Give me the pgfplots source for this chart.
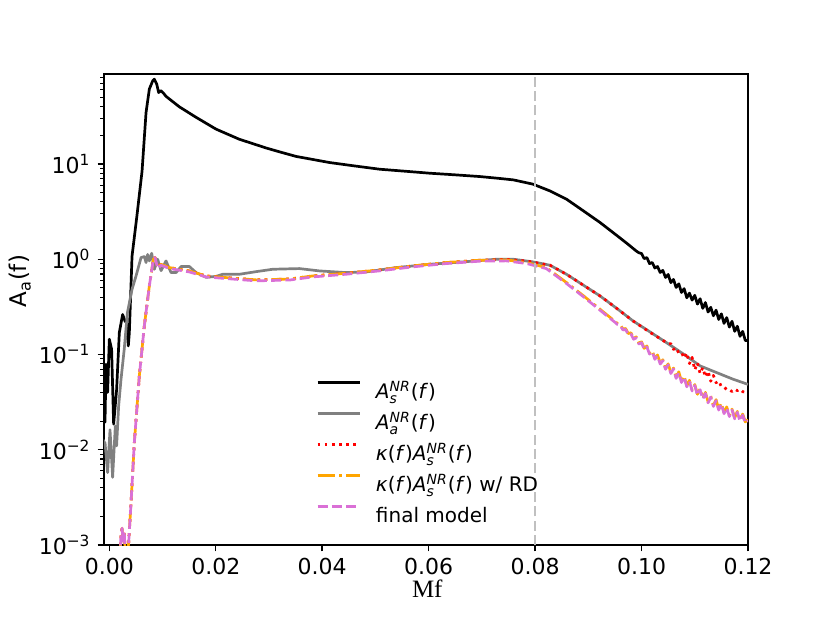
\documentclass[border=0pt]{standalone}
\usepackage{fontspec}
\setmainfont{DejaVu Sans}
\newfontfamily\serifmf{Liberation Serif}
\usepackage{amsmath}
\usepackage{pgfplots}
\pgfplotsset{compat=1.18}
\definecolor{mgray}{RGB}{128,128,128}
\definecolor{morange}{RGB}{255,165,0}
\definecolor{morchid}{RGB}{218,112,214}
\definecolor{vline}{RGB}{192,192,192}
\pgfplotsset{
  mylegimg/.style={legend image code/.code={\draw[##1] (0pt,3.6pt) -- (21pt,3.6pt);}},
}
\newcommand{\ls}{\rule[-4.5pt]{0pt}{15pt}}
\newcommand{\AsNR}{\textit{A}$_{\textit{s}}^{\textit{NR}}$(\textit{f})}
\newcommand{\AaNR}{\textit{A}$_{\textit{a}}^{\textit{NR}}$(\textit{f})}
\begin{document}
\begin{tikzpicture}
\useasboundingbox (-52pt,-39pt) rectangle (363pt,272.5pt);
\begin{axis}[
  scale only axis, width=322pt, height=235.5pt,
  ymode=log, xmin=-0.001, xmax=0.12, ymin=1e-3, ymax=88,
  xtick={0,0.02,0.04,0.06,0.08,0.1,0.12},
  xticklabels={0.00,0.02,0.04,0.06,0.08,0.10,0.12},
  ytick={1e-3,1e-2,1e-1,1,10},
  yticklabels={10\textsuperscript{−3},10\textsuperscript{−2},10\textsuperscript{−1},10\textsuperscript{0},10\textsuperscript{1}},
  minor ytick={0.002,0.003,0.004,0.005,0.006,0.007,0.008,0.009,0.02,0.03,0.04,0.05,0.06,0.07,0.08,0.09,0.2,0.3,0.4,0.5,0.6,0.7,0.8,0.9,2,3,4,5,6,7,8,9,20,30,40,50,60,70,80},
  tick align=outside, tick pos=left,
  major tick length=3.2pt, minor tick length=1.8pt,
  every major tick/.append style={line width=0.72pt, black},
  every minor tick/.append style={line width=0.54pt, black},
  axis line style={line width=0.72pt},
  ticklabel style={font=\fontsize{11}{13}\selectfont},
  xlabel={\serifmf Mf},
  ylabel={A\textsubscript{a}(f)},
  every axis x label/.style={at={(axis description cs:0.502,0)}, yshift=-26.2pt, anchor=base, font=\fontsize{12.5}{14}\selectfont},
  every axis y label/.style={at={(axis description cs:0,0.56)}, xshift=-38.5pt, rotate=90, anchor=base, font=\fontsize{11.5}{13}\selectfont},
  mylegimg,
  legend cell align=left,
  legend style={draw=none, fill=none, inner sep=0pt, at={(axis description cs:0.329,0.198)}, anchor=west,
    font=\fontsize{10}{12}\selectfont, row sep=3.5pt, column sep=7.5pt,
    nodes={inner sep=0pt}},
  every axis plot/.append style={line width=1.35pt, line join=round},
]
% black
\addplot[black] coordinates {
(-0.00126,0.070)(-0.00113,0.040)(-0.00081,0.0195)(-0.00062,0.079)(-0.00032,0.040)(0,0.145)(0.00043,0.1135)(0.00081,0.0186)(0.00137,0.0427)(0.00188,0.17)(0.0025,0.263)(0.00295,0.224)(0.00325,0.216)(0.00357,0.123)(0.00376,0.17)(0.00427,1.08)(0.0052,2.9)(0.00615,8.4)(0.0069,34.7)(0.00752,61.1)(0.00815,74.6)(0.00846,77.6)(0.0089,69.2)(0.00927,56.2)(0.0097,58.9)(0.01015,55.6)(0.01065,51.3)(0.01316,39.8)(0.0163,30.9)(0.02006,23.2)(0.0244,18.2)(0.0295,14.7)(0.032,13.4)(0.0351,12.0)(0.0414,10.35)(0.046,9.55)(0.0508,8.81)(0.0555,8.4)(0.0602,8.0)(0.065,7.69)(0.0696,7.38)(0.073,7.08)(0.0759,6.81)(0.0796,6.14)(0.0828,5.21)(0.0859,4.27)(0.089,3.24)(0.0922,2.43)(0.0955,1.75)(0.0975,1.43)(0.099,1.22)
(0.0995,1.17)(0.100,1.148)(0.1005,1.014)(0.101,1.042)(0.1015,0.899)(0.102,0.925)(0.1025,0.809)(0.103,0.839)(0.1035,0.726)(0.104,0.764)(0.1045,0.644)(0.105,0.692)(0.1055,0.568)(0.106,0.614)(0.1065,0.505)(0.107,0.552)(0.1075,0.448)(0.108,0.491)(0.1085,0.394)(0.109,0.441)(0.1095,0.372)(0.110,0.418)(0.1105,0.338)
(0.111,0.385)(0.1115,0.305)(0.112,0.351)(0.1125,0.279)(0.113,0.313)(0.1135,0.255)(0.114,0.292)(0.1145,0.233)(0.115,0.267)(0.1155,0.212)(0.116,0.244)(0.1165,0.194)(0.117,0.223)(0.1175,0.175)(0.118,0.198)(0.1185,0.155)(0.119,0.175)(0.1195,0.140)(0.120,0.141)
};
\addlegendentry{\ls\AsNR}
% gray
\addplot[mgray] coordinates {
(-0.00126,0.0129)(-0.0008,0.0117)(-0.00032,0.00575)(0.00013,0.0162)(0.00062,0.00513)(0.00113,0.0178)(0.00137,0.011)(0.00175,0.0288)(0.0022,0.055)(0.0028,0.1135)(0.0034,0.275)(0.00427,0.484)(0.00502,0.668)(0.00596,1.04)(0.00658,1.067)(0.0069,0.923)(0.0072,1.122)(0.00752,0.96)(0.00796,1.156)(0.00846,0.785)(0.00908,1.0)(0.00972,0.759)(0.01065,0.96)(0.0116,0.724)(0.01254,0.724)(0.01348,0.838)(0.01504,0.838)(0.0163,0.724)(0.01818,0.646)(0.02006,0.661)(0.0213,0.695)(0.0244,0.695)(0.0276,0.741)(0.0307,0.785)(0.0357,0.798)(0.0395,0.754)(0.0445,0.724)(0.0483,0.736)(0.0539,0.817)(0.0602,0.885)(0.0665,0.938)(0.0727,1.0)(0.0759,1.0)(0.0796,0.938)(0.0828,0.865)(0.0859,0.695)(0.089,0.537)(0.0922,0.412)(0.0955,0.30)(0.0984,0.225)(0.1015,0.174)(0.1047,0.133)(0.108,0.1)(0.111,0.0759)(0.1141,0.0646)(0.1172,0.055)(0.1198,0.049)(0.12,0.0485)
};
\addlegendentry{\ls\AaNR}
% red dotted
\addplot[red, dash pattern=on 1.35pt off 2.23pt] coordinates {
(0.0020,0.0007)(0.0022,0.0013)(0.0024,0.0015)(0.0026,0.0011)(0.0028,0.0014)(0.0030,0.0008)(0.0033,0.0007)(0.0035,0.0009)(0.00363,0.00105)(0.00408,0.00278)(0.0047,0.0119)(0.00564,0.0596)(0.00658,0.2)(0.00752,0.525)(0.00827,1.0)(0.0086,1.042)(0.00908,0.817)(0.0097,0.885)(0.0113,0.817)(0.01504,0.753)(0.0182,0.668)(0.0213,0.646)(0.0276,0.607)(0.0339,0.62)(0.0382,0.668)(0.0445,0.713)(0.0508,0.773)(0.057,0.851)(0.0633,0.923)(0.0696,0.977)(0.0746,0.995)(0.0784,0.96)(0.0796,0.933)(0.0828,0.865)(0.0859,0.695)(0.089,0.537)(0.0922,0.412)(0.0955,0.30)(0.0984,0.225)(0.1015,0.172)(0.1047,0.133)
(0.105,0.130)(0.1055,0.130)(0.106,0.113)(0.1065,0.118)(0.107,0.103)(0.1075,0.105)(0.108,0.0914)(0.1085,0.104)(0.109,0.0802)(0.1095,0.0933)(0.110,0.0687)(0.1105,0.0818)(0.111,0.063)(0.1115,0.0728)(0.112,0.058)(0.1125,0.0671)(0.113,0.0524)(0.1135,0.0604)(0.114,0.0505)(0.1145,0.0528)(0.115,0.0459)(0.1155,0.0458)(0.116,0.0427)(0.1165,0.043)(0.117,0.0407)(0.1175,0.0432)(0.118,0.0417)(0.1185,0.0432)(0.119,0.0407)(0.1195,0.0403)(0.120,0.0398)
};
\addlegendentry{\ls\textit{κ}(\textit{f})\AsNR}
% orange dash-dot
\addplot[morange, dash pattern=on 8.64pt off 2.16pt on 1.35pt off 2.16pt] coordinates {
(0.0020,0.0007)(0.0022,0.0013)(0.0024,0.0015)(0.0026,0.0011)(0.0028,0.0014)(0.0030,0.0008)(0.0033,0.0007)(0.0035,0.0009)(0.00363,0.00105)(0.00408,0.00278)(0.0047,0.0119)(0.00564,0.0596)(0.00658,0.2)(0.00752,0.525)(0.00827,1.0)(0.0086,1.042)(0.00908,0.817)(0.0097,0.885)(0.0113,0.817)(0.01504,0.753)(0.0182,0.668)(0.0213,0.646)(0.0276,0.607)(0.0339,0.62)(0.0382,0.668)(0.0445,0.713)(0.0508,0.773)(0.057,0.851)(0.0633,0.923)(0.0696,0.977)(0.0746,0.984)(0.0784,0.923)(0.0821,0.817)(0.0859,0.569)(0.089,0.417)(0.0922,0.2985)(0.095,0.223)
(0.0955,0.211)(0.096,0.206)(0.0965,0.185)(0.097,0.1875)(0.0975,0.166)(0.098,0.169)(0.0985,0.148)(0.099,0.153)(0.0995,0.132)(0.100,0.136)(0.1005,0.116)(0.101,0.123)(0.1015,0.1035)(0.102,0.1096)(0.1025,0.0912)(0.103,0.0989)(0.1035,0.0813)(0.104,0.0881)(0.1045,0.0716)(0.105,0.0798)(0.1055,0.0646)(0.106,0.0721)(0.1065,0.0575)(0.107,0.0658)(0.1075,0.052)(0.108,0.0594)(0.1085,0.0469)(0.109,0.0536)(0.1095,0.0424)(0.110,0.0484)(0.1105,0.0382)(0.111,0.0437)(0.1115,0.0348)(0.112,0.04)(0.1125,0.0318)(0.113,0.0366)(0.1135,0.0292)(0.114,0.0336)(0.1145,0.0267)(0.115,0.0308)(0.1155,0.0245)(0.116,0.0282)(0.1165,0.0228)(0.117,0.0267)(0.1175,0.0216)(0.118,0.0253)(0.1185,0.0205)(0.119,0.0237)(0.1195,0.0196)(0.120,0.0207)
};
\addlegendentry{\ls\textit{κ}(\textit{f})\AsNR{} w/ RD}
% pink dashed
\addplot[morchid, dash pattern=on 5pt off 2.16pt] coordinates {
(0.0020,0.0007)(0.0022,0.0013)(0.0024,0.0015)(0.0026,0.0011)(0.0028,0.0014)(0.0030,0.0008)(0.0033,0.0007)(0.0035,0.0009)(0.00363,0.00105)(0.00408,0.00278)(0.0047,0.0119)(0.00564,0.0596)(0.00658,0.2)(0.00752,0.525)(0.00827,1.0)(0.0086,1.042)(0.00908,0.80)(0.0097,0.865)(0.0113,0.80)(0.01504,0.735)(0.0182,0.652)(0.0213,0.631)(0.0276,0.593)(0.0339,0.605)(0.0382,0.652)(0.0445,0.696)(0.0508,0.755)(0.057,0.831)(0.0633,0.901)(0.0696,0.954)(0.0746,0.961)(0.0784,0.901)(0.0821,0.798)(0.0859,0.556)(0.089,0.407)(0.0922,0.2915)(0.095,0.218)
(0.0955,0.206)(0.096,0.201)(0.0965,0.181)(0.097,0.183)(0.0975,0.162)(0.098,0.165)(0.0985,0.1445)(0.099,0.1494)(0.0995,0.129)(0.100,0.133)(0.1005,0.113)(0.101,0.120)(0.1015,0.101)(0.102,0.107)(0.1025,0.089)(0.103,0.0966)(0.1035,0.0794)(0.104,0.086)(0.1045,0.0699)(0.105,0.0779)(0.1055,0.0631)(0.106,0.0704)(0.1065,0.0561)(0.107,0.0643)(0.1075,0.0508)(0.108,0.058)(0.1085,0.0458)(0.109,0.0523)(0.1095,0.0414)(0.110,0.0473)(0.1105,0.0373)(0.111,0.0427)(0.1115,0.034)(0.112,0.0391)(0.1125,0.0311)(0.113,0.0357)(0.1135,0.0285)(0.114,0.0328)(0.1145,0.0261)(0.115,0.0301)(0.1155,0.0239)(0.116,0.0275)(0.1165,0.0223)(0.117,0.0261)(0.1175,0.0211)(0.118,0.0247)(0.1185,0.02)(0.119,0.0231)(0.1195,0.0191)(0.120,0.0202)
};
\addlegendentry{\ls final model}
% vertical line
\addplot[vline, dash pattern=on 5pt off 2.16pt, forget plot] coordinates {(0.08,0.001)(0.08,88)};
\end{axis}
\end{tikzpicture}
\end{document}
